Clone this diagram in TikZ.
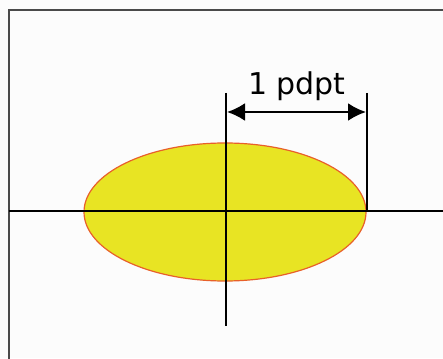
\documentclass[tikz,border=0pt]{standalone}
\usepackage{fontspec}
\setmainfont{DejaVu Sans}
\usetikzlibrary{arrows.meta,shapes.geometric}
\definecolor{bg}{HTML}{FCFCFC}
\definecolor{frame}{HTML}{4A4A4A}
\definecolor{fillyel}{HTML}{E8E423}
\definecolor{rimred}{HTML}{E8602A}
\tikzset{
  axis/.style={line width=1.2pt, black},
  dimarrow/.style={line width=2.4pt, {Latex[length=18pt,width=18pt]}-{Latex[length=18pt,width=18pt]}},
  blob/.style={ellipse, draw=rimred, fill=fillyel, line width=1.2pt, minimum width=282pt, minimum height=138pt, inner sep=0pt},
}
\begin{document}
\begin{tikzpicture}[x=1pt,y=1pt]
\useasboundingbox (0,0) rectangle (443,358);
\clip (0,0) rectangle (443,358);
\fill[bg] (0,0) rectangle (443,358);
\draw[frame, line width=2pt] (8.5,-20) -- (8.5,347.5) -- (460,347.5);
% ellipse
\node[blob] (ell) at (225,146) {};
% coordinates
\coordinate (hl) at (8.5,147);
\coordinate (hr) at (443,147);
\coordinate (vt) at (226,265);
\coordinate (vb) at (226,32);
\coordinate (tt) at (367,265);
\coordinate (tb) at (367,147);
\coordinate (al) at (227,246);
\coordinate (ar) at (366,246);
\draw[axis] (hl) -- (hr);
\draw[axis] (vt) -- (vb);
\draw[axis] (tt) -- (tb);
\draw[dimarrow] (al) -- (ar);
\node[anchor=base, inner sep=0pt, font=\fontsize{30}{34}\selectfont] (lbl) at (297,263) {1 pdpt};
\end{tikzpicture}
\end{document}
